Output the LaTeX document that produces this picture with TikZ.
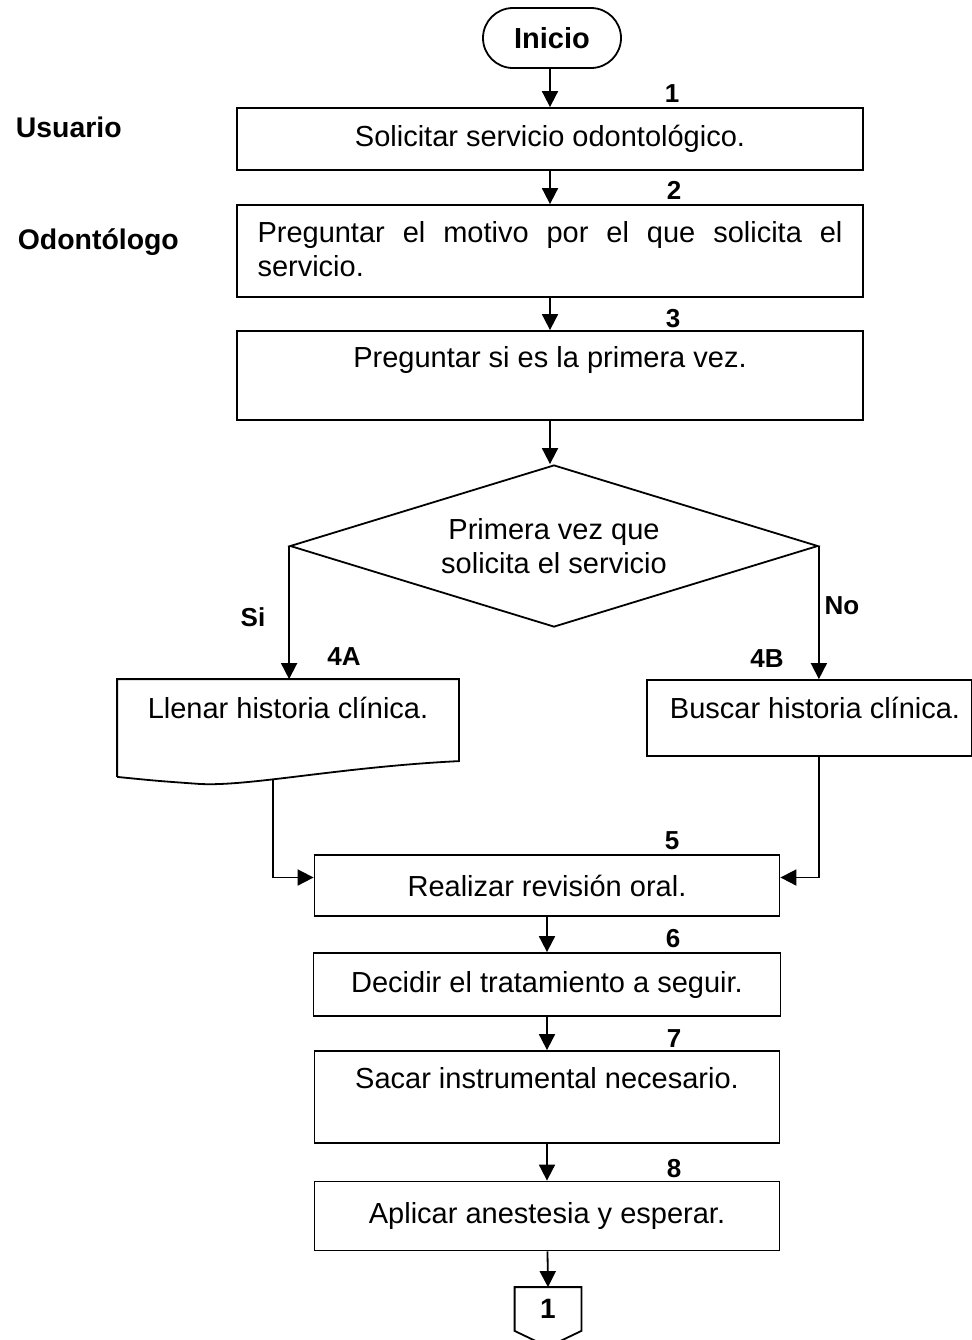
\documentclass[tikz,border=0pt]{standalone}
\usepackage{fontspec}
\setmainfont{Liberation Sans}
\usetikzlibrary{arrows.meta,shapes.geometric,calc}

\begin{document}
\begin{tikzpicture}[x=0.5pt,y=-0.5pt,font=\fontsize{14.5}{17}\selectfont,
  line width=0.9pt,>={Triangle[length=8pt,width=8pt]},
  box/.style={draw,rectangle,inner sep=0pt,align=center},
  num/.style={anchor=base,inner sep=0pt,font=\fontsize{13}{15}\selectfont\bfseries},
  lane/.style={anchor=west,inner sep=0pt,font=\fontsize{14.2}{16}\selectfont\bfseries}]
  \useasboundingbox (0,0) rectangle (971,1340);

  % roles
  \node[lane] (usr) at (15,127) {Usuario};
  \node[lane] (odo) at (17,242) {Odontólogo};

  % start
  \node[box,rounded corners=15pt,minimum width=69pt,minimum height=30pt,
    font=\fontsize{14.5}{17}\selectfont\bfseries] (ini) at (552,38) {Inicio};

  % main column
  \node[box,minimum width=313pt,minimum height=31pt] (b1) at (550,139)
    {Solicitar servicio odontológico.};
  \node[box,minimum width=313pt,minimum height=46pt] (b2) at (550,251) {};
  \node[text width=292.5pt,align=left,inner sep=0pt] (t2) at (550,249)
    {Preguntar\hfill el\hfill motivo\hfill por\hfill el\hfill que\hfill
     solicita\hfill el\\servicio.};
  \node[box,minimum width=313pt,minimum height=44.5pt] (b3) at (550,375.5) {};
  \node (t3) at (550,360) {Preguntar si es la primera vez.};

  \node[draw,diamond,aspect=3.26,inner sep=0pt,minimum width=264pt,
    minimum height=81pt,align=center] (dec) at (554,546)
    {Primera vez que\\solicita el servicio};

  % branches
  \node[inner sep=0pt,minimum width=170pt,minimum height=48pt] (b4a) at (288,728) {};
  \draw (b4a.south west) -- (b4a.north west) -- (b4a.north east)
    -- ($(b4a.north east)+(0,82)$)
    .. controls ($(b4a.north east)+(-120,88)$) and ($(b4a.south west)+(130,10)$)
    .. ($(b4a.south west)+(82,7)$)
    .. controls ($(b4a.south west)+(40,4)$) .. (b4a.south west);
  \node (t4a) at (288,708) {Llenar historia clínica.};
  \coordinate (c4a) at (273,780);

  \node[box,minimum width=162.5pt,minimum height=38pt] (b4b) at (809.5,718) {};
  \node (t4b) at (815,708) {Buscar historia clínica.};

  \node[box,minimum width=232.5pt,minimum height=30.5pt] (b5) at (547,885.5)
    {Realizar revisión oral.};
  \node[box,minimum width=233.5pt,minimum height=31.5pt] (b6) at (547,984.5)
    {Decidir el tratamiento a seguir.};
  \node[box,minimum width=232.5pt,minimum height=46pt] (b7) at (547,1097) {};
  \node (t7) at (547,1078) {Sacar instrumental necesario.};
  \node[box,minimum width=232.5pt,minimum height=34.5pt] (b8) at (547,1216)
    {Aplicar anestesia y esperar.};

  % off-page connector
  \node[inner sep=0pt,minimum width=32.5pt,minimum height=21pt,
    font=\fontsize{14}{16}\selectfont\bfseries] (off) at (548,1309) {1};
  \draw (off.south west) -- (off.north west) -- (off.north east)
    -- (off.south east) -- ($(off.south)+(0,16)$) -- cycle;

  % step numbers
  \node[num] (n1) at (672,102) {1};
  \node[num] (n2) at (674,199) {2};
  \node[num] (n3) at (673,327) {3};
  \node[num] (n4a) at (344,665) {4A};
  \node[num] (n4b) at (767,667) {4B};
  \node[num] (n5) at (672,849) {5};
  \node[num] (n6) at (673,947) {6};
  \node[num] (n7) at (674,1047) {7};
  \node[num] (n8) at (674,1177) {8};
  \node[num] (si) at (253,626) {Si};
  \node[num] (no) at (842,614) {No};

  % connectors
  \draw[->] (ini.south -| b1) -- (b1.north);
  \draw[->] (b1) -- (b2);
  \draw[->] (b2) -- (b3);
  \draw[->] (b3) -- (b3 |- dec.north);
  \draw[->] (dec.west) -- (dec.west |- b4a.north);
  \draw[->] (dec.east) -- (dec.east |- b4b.north);
  \draw[->] (c4a) |- ([yshift=4pt]b5.west);
  \draw[->] (dec.east |- b4b.south) |- ([yshift=4pt]b5.east);
  \draw[->] (b5) -- (b6);
  \draw[->] (b6) -- (b7);
  \draw[->] (b7) -- (b8);
  \draw[->] (b8) -- (off.north);
\end{tikzpicture}
\end{document}
